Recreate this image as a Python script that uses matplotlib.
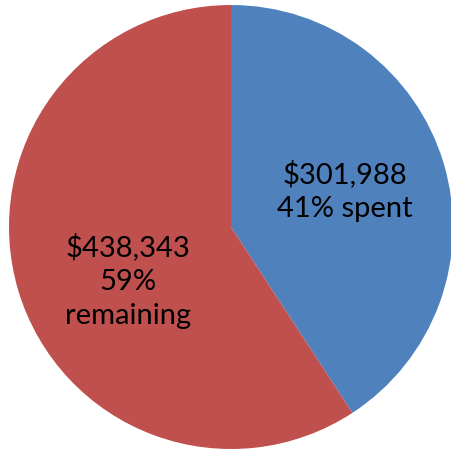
import matplotlib
matplotlib.use('Agg')
import matplotlib.pyplot as plt

labels = ['spent', 'remaining']
amounts = [301988, 438343]
colors = ['#4F81BD', '#C0504D']
label_text = ['$301,988\n41% spent', '$438,343\n59%\nremaining']

W, H = 452, 450
fig = plt.figure(figsize=(W / 100, H / 100), dpi=100)
ax = fig.add_axes([0, 0, 1, 1])

cx, cy, r = 231, H - 227, 222
ax.pie(amounts, colors=colors, startangle=90, counterclock=False,
       center=(cx, cy), radius=r, frame=True,
       wedgeprops=dict(linewidth=0, edgecolor='none'))
ax.set_xlim(0, W)
ax.set_ylim(0, H)
ax.set_aspect('equal')
ax.axis('off')

# label positions (pixels from top-left)
pos = [(345, 191), (128, 281)]
for (x, y), t in zip(pos, label_text):
    ax.text(x, H - y, t, ha='center', va='center', fontsize=21,
            family='Lato', linespacing=1.4, color='black')

fig.savefig('out.png', dpi=100)
